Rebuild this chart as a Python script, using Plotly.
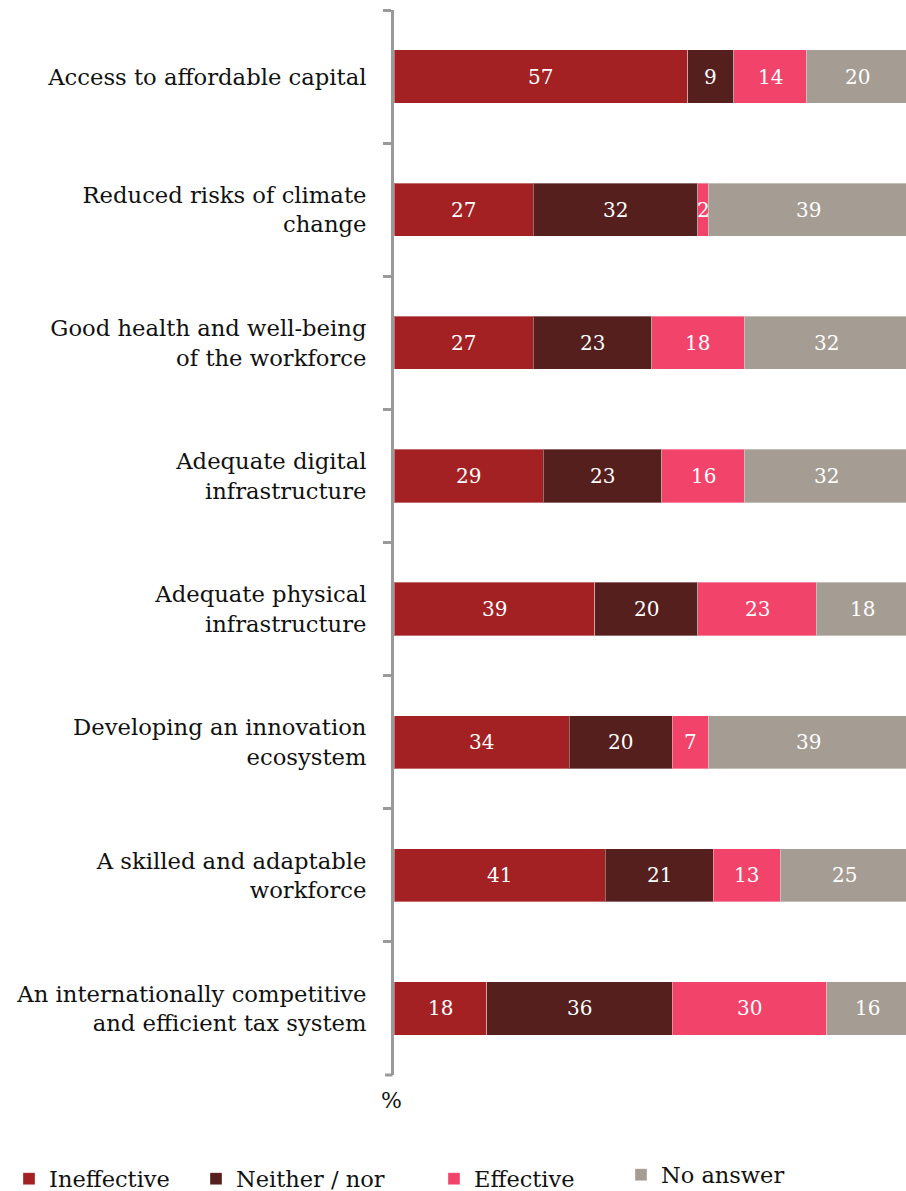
import plotly.graph_objects as go

categories = [
    "Access to affordable capital",
    "Reduced risks of climate<br>change",
    "Good health and well-being<br>of the workforce",
    "Adequate digital<br>infrastructure",
    "Adequate physical<br>infrastructure",
    "Developing an innovation<br>ecosystem",
    "A skilled and adaptable<br>workforce",
    "An internationally competitive<br>and efficient tax system",
]

ineffective = [57, 27, 27, 29, 39, 34, 41, 18]
neither_nor = [9, 32, 23, 23, 20, 20, 21, 36]
effective = [14, 2, 18, 16, 23, 7, 13, 30]
no_answer = [20, 39, 32, 32, 18, 39, 25, 16]

series_names = ["Ineffective", "Neither / nor", "Effective", "No answer"]
series_values = [ineffective, neither_nor, effective, no_answer]
series_colors = ["#A32123", "#551F1E", "#F2436B", "#A59C93"]
legend_ids = ["legend", "legend2", "legend3", "legend4"]

SERIF = "DejaVu Serif"
AXIS_GREY = "#9A9A9A"
W, H = 906, 1191
LEFT, TOP, BOTTOM = 394, 10, 116
plot_h = H - TOP - BOTTOM
plot_w = W - LEFT

fig = go.Figure()

for name, vals, color, lg in zip(series_names, series_values, series_colors, legend_ids):
    fig.add_trace(go.Bar(
        y=categories,
        x=vals,
        name=name,
        orientation="h",
        marker=dict(color=color, line=dict(color="rgba(255,255,255,0.35)", width=1)),
        legend=lg,
        hoverinfo="skip",
    ))

# value labels centred in each segment
annotations = []
for ci, cat in enumerate(categories):
    start = 0
    for vals in series_values:
        v = vals[ci]
        annotations.append(dict(
            x=start + v / 2, y=cat, xref="x", yref="y",
            text=str(v), showarrow=False,
            font=dict(family=SERIF, size=20, color="white"),
        ))
        start += v

# unit label under the axis
annotations.append(dict(
    x=-0.004, xref="paper", xanchor="center",
    y=(H - BOTTOM - 1100) / plot_h, yref="paper", yanchor="middle",
    text="%", showarrow=False,
    font=dict(family=SERIF, size=22, color="#111111"),
))

# closing tick at the lower end of the category axis
shapes = [dict(
    type="line", xref="paper", yref="paper",
    x0=-9 / plot_w, x1=-1.5 / plot_w, y0=0, y1=0,
    line=dict(color=AXIS_GREY, width=3),
)]

legend_common = dict(
    orientation="h", xref="container", yref="container",
    xanchor="left", yanchor="middle",
    font=dict(family=SERIF, size=22.5, color="#111111"),
    bgcolor="rgba(0,0,0,0)", itemclick=False, itemdoubleclick=False,
)
legend_pos = [(9, 1179), (196, 1179), (434, 1179), (621, 1175)]

layout_legends = {}
for lg, (px, py) in zip(legend_ids, legend_pos):
    layout_legends[lg] = dict(legend_common, x=px / W, y=(H - py) / H)

fig.update_layout(
    width=W, height=H,
    margin=dict(l=LEFT, r=0, t=TOP, b=BOTTOM),
    paper_bgcolor="white", plot_bgcolor="white",
    barmode="stack", bargap=0.6,
    showlegend=True,
    annotations=annotations,
    shapes=shapes,
    xaxis=dict(
        range=[0, 99.4], showgrid=False, zeroline=False,
        showticklabels=False, ticks="", showline=False,
    ),
    yaxis=dict(
        range=[7.5, -0.5], showgrid=False, zeroline=False,
        showline=True, linecolor=AXIS_GREY, linewidth=3,
        ticks="outside", tickson="boundaries", ticklen=8,
        tickcolor=AXIS_GREY, tickwidth=3,
        tickfont=dict(family=SERIF, size=22.7, color="#111111"),
        ticklabelstandoff=20,
    ),
    **layout_legends,
)

fig.write_html("out.html")
